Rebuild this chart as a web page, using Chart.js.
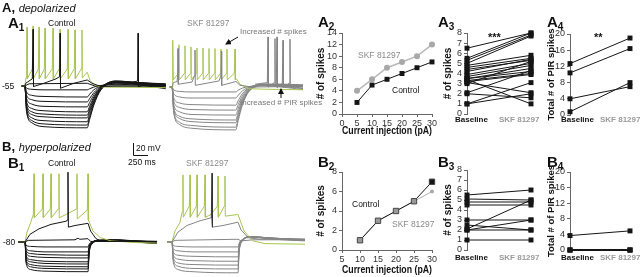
<!DOCTYPE html>
<html>
<head>
<meta charset="utf-8">
<script src="https://cdn.jsdelivr.net/npm/chart.js@4.4.1/dist/chart.umd.min.js"></script>
<style>
body { margin: 0; background: #fff; }
#container { position: relative; width: 640px; height: 277px; overflow: hidden; font-family: "Liberation Sans", Arial, sans-serif; color: #111; }
#container canvas { position: absolute; }
.t { position: absolute; white-space: nowrap; line-height: 1; z-index: 3; }
.panel { font-size: 15px; font-weight: bold; }
.panel sub { font-size: 10px; vertical-align: -3px; }
.sec { font-size: 13px; font-weight: bold; }
.sec i { font-size: 11px; font-weight: normal; }
.small { font-size: 8.5px; }
.note { font-size: 8px; color: #777; }
.grey { color: #8a8a8a; }
.cat { font-size: 8px; font-weight: bold; }
.stars { font-size: 11px; font-weight: bold; }
svg { position: absolute; left: 0; top: 0; z-index: 2; }
</style>
</head>
<body>
<div id="container">
	<div class="t sec" style="left:2px;top:1px">A, <i>depolarized</i></div>
	<div class="t panel" style="left:8px;top:15px">A<sub>1</sub></div>
	<div class="t small" style="left:48px;top:19px">Control</div>
	<div class="t small grey" style="left:187px;top:19px">SKF 81297</div>
	<div class="t small" style="left:2px;top:82px">-55</div>
	<div class="t note" style="left:240px;top:28px">Increased # spikes</div>
	<div class="t note" style="left:240px;top:99px">Increased # PIR spikes</div>
	<div class="t panel" style="left:318px;top:14px">A<sub>2</sub></div>
	<div class="t panel" style="left:438px;top:14px">A<sub>3</sub></div>
	<div class="t panel" style="left:547px;top:14px">A<sub>4</sub></div>
	<div class="t small grey" style="left:358px;top:51px">SKF 81297</div>
	<div class="t small" style="left:392px;top:86px">Control</div>
	<div class="t stars" style="left:488px;top:32px">***</div>
	<div class="t stars" style="left:594px;top:32px">**</div>

	<div class="t sec" style="left:2px;top:140px">B, <i>hyperpolarized</i></div>
	<div class="t panel" style="left:8px;top:155px">B<sub>1</sub></div>
	<div class="t small" style="left:48px;top:159px">Control</div>
	<div class="t small grey" style="left:186px;top:159px">SKF 81297</div>
	<div class="t small" style="left:3px;top:238px">-80</div>
	<div class="t small" style="left:136px;top:144px">20 mV</div>
	<div class="t small" style="left:128px;top:158px">250 ms</div>
	<div class="t panel" style="left:318px;top:154px">B<sub>2</sub></div>
	<div class="t panel" style="left:438px;top:154px">B<sub>3</sub></div>
	<div class="t panel" style="left:547px;top:154px">B<sub>4</sub></div>
	<div class="t small" style="left:352px;top:200px">Control</div>
	<div class="t small grey" style="left:392px;top:220px">SKF 81297</div>

	<svg width="640" height="277">
		<defs>
			<marker id="ah" markerWidth="6" markerHeight="6" refX="5" refY="3" orient="auto" markerUnits="userSpaceOnUse">
				<path d="M0,0 L6,3 L0,6 z" fill="#111" />
			</marker>
		</defs>
		<line x1="238" y1="37" x2="226" y2="44" stroke="#111" stroke-width="1" marker-end="url(#ah)" />
		<line x1="281" y1="98" x2="281" y2="89" stroke="#111" stroke-width="1" marker-end="url(#ah)" />
		<polyline points="133.5,143 133.5,155.5 148,155.5" fill="none" stroke="#111" stroke-width="1" />
	</svg>
</div>

<script>
// ---- summary data ----
const groups = ["Baseline", "SKF 81297"];

const a2Current = [5, 10, 15, 20, 25, 30];
const a2Skf = [4, 6, 8, 9, 10, 12];
const a2Control = [2, 5, 6, 7, 8, 9];

const a3Baseline = [6.5, 5.5, 5.3, 5.0, 4.8, 4.6, 4.4, 4.2, 3.9, 3.7, 3.5, 3.5, 3.3, 3.2, 3.0, 3.1, 2.1, 2.0, 1.0, 1.0, 3.4];
const a3Skf = [8.0, 8.0, 7.8, 7.7, 5.8, 5.5, 5.3, 5.4, 5.0, 4.8, 4.5, 4.2, 4.0, 3.9, 5.2, 2.1, 4.3, 1.6, 3.1, 2.0, 1.0];

const a4Baseline = [12.7, 10.4, 4.0, 0.8];
const a4Skf = [19.0, 16.4, 7.0, 8.0];

const b2Current = [10, 15, 20, 25, 30];
const b2Control = [1, 3, 4, 5, 7];
const b2Skf = [1, 3, 4, 5, 6];

const b3Baseline = [5.5, 5.1, 4.8, 4.5, 3.0, 2.5, 2.1, 2.0, 2.0, 1.0];
const b3Skf = [6.0, 5.0, 4.8, 4.5, 3.0, 2.0, 5.0, 3.0, 2.0, 1.0];

const b4Baseline = [3.7, 0, 0, 0];
const b4Skf = [4.9, 0, 0, 0];

// ---- voltage traces (time in ms, membrane potential in mV) ----
// A1 control: hyperpolarizing steps sampled on a common time grid
const a1cTime = [30, 80, 110, 200, 400, 1120, 1160, 1230, 1350, 1600, 2000, 2430];
const a1cSteps = [
	[-55, -55, -59, -61, -62, -62, -60, -57, -54, -52, -53, -54],
	[-55, -55, -66, -72, -74, -75, -70, -62, -55, -50, -51, -53],
	[-55, -55, -72, -80, -83, -84, -78, -67, -56, -49, -50, -52],
	[-55, -55, -78, -88, -92, -93, -85, -71, -57, -48, -49, -51],
	[-55, -55, -84, -96, -100, -102, -92, -75, -58, -47, -49, -52],
	[-55, -55, -88, -102, -106, -108, -97, -78, -58, -46, -49, -53],
	[-55, -55, -92, -107, -111, -113, -101, -81, -59, -46, -50, -55],
	[-55, -55, -96, -113, -118, -120, -107, -84, -60, -47, -51, -57],
	[-55, -55, -100, -118, -124, -126, -112, -87, -61, -48, -52, -58],
	[-55, -55, -103, -122, -129, -131, -116, -90, -62, -49, -53, -60],
];
const a1cGreen = [[30, -55], [80, -55], [100, -40], [112, -25], [117, 52], [122, -42], [205, -24], [217, 54], [222, -42], [305, -24], [317, 52], [322, -42], [405, -24], [417, 50], [422, -42], [538, -24], [550, 50], [555, -42], [655, -24], [667, 48], [672, -42], [788, -24], [800, 48], [805, -42], [905, -24], [917, 47], [922, -42], [1021, -24], [1033, 47], [1038, -40], [1120, -30], [1170, -45], [1250, -54], [1400, -57], [2430, -58]];
const a1cBlack = [[30, -55], [80, -55], [95, -50], [205, -42], [217, 48], [225, -56], [400, -50], [600, -42], [660, -38], [667, 41], [675, -59], [900, -50], [1120, -44], [1200, -50], [1350, -56], [1600, -55], [2430, -55]];
const a1cFlat = [[30, -55], [80, -55], [150, -51], [1120, -50], [1250, -55], [2430, -55]];
const a1cPir = [[1800, -50], [1960, -46], [1967, 41], [1975, -56], [2100, -52], [2430, -54]];

// A1 SKF 81297
const a1sTime = [30, 67, 95, 190, 400, 1130, 1170, 1240, 1360, 1600, 1900, 2250];
const a1sSteps = [
	[-55, -55, -60, -63, -64, -64, -61, -57, -54, -52, -52, -53],
	[-55, -55, -67, -73, -75, -75, -70, -62, -55, -51, -51, -52],
	[-55, -55, -75, -84, -87, -88, -80, -67, -56, -50, -50, -51],
	[-55, -55, -81, -92, -96, -97, -87, -71, -57, -50, -50, -52],
	[-55, -55, -87, -100, -105, -106, -94, -75, -58, -50, -51, -53],
	[-55, -55, -92, -108, -113, -115, -101, -79, -59, -50, -52, -55],
	[-55, -55, -95, -112, -118, -120, -106, -82, -60, -51, -53, -57],
	[-55, -55, -99, -119, -125, -128, -112, -85, -61, -52, -54, -58],
	[-55, -55, -102, -123, -130, -133, -116, -88, -62, -53, -55, -60],
];
const a1sGreen = [[30, -55], [67, -55], [75, -35], [83, 30], [88, -42], [175, -30], [183, 22], [188, -42], [275, -30], [283, 20], [288, -42], [375, -30], [383, 18], [388, -42], [475, -30], [483, 16], [488, -42], [575, -30], [583, 16], [588, -42], [675, -30], [683, 15], [688, -42], [775, -30], [783, 15], [788, -42], [875, -30], [883, 14], [888, -42], [975, -30], [983, 14], [988, -42], [1105, -30], [1117, 14], [1122, -42], [1140, -40], [1200, -50], [1350, -58], [1600, -59], [2250, -60]];
const a1sGrey = [[30, -55], [67, -55], [90, -47], [150, -45], [160, -35], [167, 15], [172, -50], [400, -46], [440, -35], [450, 12], [455, -52], [850, -44], [880, -35], [890, 10], [895, -52], [1133, -45], [1200, -52], [1400, -55], [2250, -54]];
const a1sPir = [[1450, -50], [1655, -47], [1667, 36], [1672, -55], [1770, -47], [1783, 33], [1788, -55], [1805, -48], [1817, 36], [1822, -56], [1905, -48], [1917, 30], [1922, -56], [2020, -48], [2033, 32], [2038, -56], [2150, -52], [2250, -53]];

// B1 control
const b1cTime = [50, 167, 185, 260, 500, 1217, 1235, 1280, 1400, 1700, 2000, 2367];
const b1cSteps = [
	[-80, -80, -86, -88, -89, -89, -84, -80, -78, -78, -79, -79],
	[-80, -80, -92, -96, -98, -98, -88, -81, -78, -77, -78, -79],
	[-80, -80, -96, -101, -103, -104, -90, -81, -77, -77, -78, -80],
	[-80, -80, -100, -106, -108, -109, -92, -82, -77, -77, -78, -80],
	[-80, -80, -105, -112, -115, -116, -94, -82, -77, -76, -78, -81],
	[-80, -80, -108, -116, -119, -120, -96, -83, -77, -76, -79, -81],
	[-80, -80, -112, -121, -124, -125, -98, -83, -77, -77, -79, -82],
	[-80, -80, -115, -125, -128, -129, -100, -84, -78, -77, -80, -82],
	[-80, -80, -119, -130, -133, -134, -102, -84, -78, -77, -80, -83],
];
const b1cGreen = [[50, -80], [167, -80], [200, -62], [260, -45], [305, -30], [317, 44], [322, -36], [455, -20], [467, 44], [472, -36], [588, -20], [600, 44], [605, -36], [721, -20], [733, 44], [738, -36], [850, -30], [1021, -20], [1033, 44], [1038, -38], [1205, -22], [1217, 44], [1222, -40], [1300, -60], [1420, -72], [1600, -78], [2000, -81], [2367, -82]];
const b1cBlack = [[50, -80], [167, -80], [250, -66], [400, -56], [600, -48], [860, -42], [870, -40], [883, 47], [890, -53], [1000, -50], [1217, -46], [1260, -60], [1350, -74], [1450, -79], [1700, -79], [2367, -79]];
const b1cFlat = [[50, -80], [167, -80], [220, -77], [1000, -76], [1050, -73], [1080, -75], [1217, -74], [1260, -79], [1400, -79], [2367, -79]];

// B1 SKF 81297
const b1sTime = [67, 150, 170, 250, 500, 1250, 1270, 1330, 1450, 1700, 2000, 2367];
const b1sSteps = [
	[-80, -80, -86, -88, -89, -89, -82, -75, -72, -73, -74, -75],
	[-80, -80, -92, -96, -98, -98, -85, -75, -71, -72, -74, -75],
	[-80, -80, -98, -104, -106, -107, -88, -76, -70, -72, -74, -76],
	[-80, -80, -103, -111, -114, -115, -90, -76, -70, -72, -74, -76],
	[-80, -80, -108, -118, -121, -122, -93, -77, -70, -72, -75, -77],
	[-80, -80, -112, -124, -128, -129, -95, -77, -70, -73, -75, -77],
	[-80, -80, -116, -130, -134, -136, -97, -78, -70, -73, -76, -78],
];
const b1sGreen = [[67, -80], [150, -80], [200, -60], [280, -45], [320, -25], [333, 42], [338, -35], [438, -15], [450, 42], [455, -35], [555, -15], [567, 42], [572, -35], [688, -15], [700, 42], [705, -35], [800, -30], [905, -15], [917, 40], [922, -35], [1021, -15], [1033, 40], [1038, -33], [1250, -30], [1350, -60], [1500, -78], [1700, -83], [2367, -84]];
const b1sGrey = [[67, -80], [150, -80], [250, -62], [400, -50], [600, -42], [800, -36], [810, -35], [824, -53], [1000, -50], [1250, -44], [1300, -58], [1420, -72], [1600, -75], [2367, -75]];
const b1sSpike = [[805, -36], [817, 45], [824, -53]];
const b1sFlat = [[67, -80], [150, -80], [200, -77], [1250, -75], [1300, -78], [1500, -76], [2367, -76]];

// ---- drawing ----
const PX_PER_MS = 0.06;
const PX_PER_MV = 0.55;
const GREEN = "#a9c552";
const BLACK = "#151515";
const GREY = "#858585";
const FONT = "'Liberation Sans', Arial, sans-serif";

function makeCanvas(box) {
	const canvas = document.createElement("canvas");
	canvas.width = box.width;
	canvas.height = box.height;
	canvas.style.left = box.left + "px";
	canvas.style.top = box.top + "px";
	canvas.style.width = box.width + "px";
	canvas.style.height = box.height + "px";
	document.getElementById("container").appendChild(canvas);
	return canvas;
}

function pairs(list) {
	return list.map(([x, y]) => ({ x, y }));
}

function spikeLine(list, color) {
	return { data: pairs(list), borderColor: color, showLine: true, pointRadius: 0, borderWidth: 1, tension: 0 };
}

function stepLines(time, steps, color) {
	return steps.map((vals) => ({
		data: vals.map((v, i) => ({ x: time[i], y: v })),
		borderColor: color,
		showLine: true,
		pointRadius: 0,
		borderWidth: 1,
		cubicInterpolationMode: "monotone",
	}));
}

function traceChart(box, datasets) {
	const canvas = makeCanvas(box);
	new Chart(canvas.getContext("2d"), {
		type: "scatter",
		data: { datasets },
		options: {
			responsive: false,
			animation: false,
			devicePixelRatio: 1,
			layout: { padding: 0 },
			plugins: { legend: { display: false }, tooltip: { enabled: false } },
			scales: {
				x: { type: "linear", display: false, min: 0, max: box.width / PX_PER_MS },
				y: {
					type: "linear",
					display: false,
					min: box.vBase - (box.top + box.height - box.base) / PX_PER_MV,
					max: box.vBase + (box.base - box.top) / PX_PER_MV,
				},
			},
		},
	});
}

traceChart({ left: 20, top: 20, width: 150, height: 115, base: 86, vBase: -55 }, [
	spikeLine(a1cBlack, BLACK),
	spikeLine(a1cPir, BLACK),
	spikeLine(a1cGreen, GREEN),
	spikeLine(a1cFlat, BLACK),
	...stepLines(a1cTime, a1cSteps, BLACK),
]);
traceChart({ left: 168, top: 20, width: 142, height: 115, base: 87, vBase: -55 }, [
	spikeLine(a1sPir, GREY),
	spikeLine(a1sGrey, GREY),
	spikeLine(a1sGreen, GREEN),
	...stepLines(a1sTime, a1sSteps, GREY),
]);
traceChart({ left: 15, top: 160, width: 150, height: 117, base: 242, vBase: -80 }, [
	spikeLine(b1cBlack, BLACK),
	spikeLine(b1cGreen, GREEN),
	spikeLine(b1cFlat, BLACK),
	...stepLines(b1cTime, b1cSteps, BLACK),
]);
traceChart({ left: 163, top: 160, width: 147, height: 117, base: 242, vBase: -80 }, [
	spikeLine(b1sSpike, "#333"),
	spikeLine(b1sGrey, GREY),
	spikeLine(b1sGreen, GREEN),
	spikeLine(b1sFlat, GREY),
	...stepLines(b1sTime, b1sSteps, GREY),
]);

// summary plots: box = canvas, area = wanted chart area (page coordinates)
function yAxis(min, max, step, title, width, titleSize) {
	return {
		min,
		max,
		border: { display: true, color: "#666" },
		grid: { drawOnChartArea: false, drawTicks: true, tickLength: 3, color: "#666" },
		ticks: { stepSize: step, color: "#333", font: { size: 9, family: FONT }, padding: 2, autoSkip: false },
		title: { display: true, text: title, color: "#111", font: { size: titleSize || 10, weight: "bold", family: FONT }, padding: 0 },
		afterFit: (scale) => {
			scale.width = width;
		},
	};
}

function summaryChart(box, area, datasets, yCfg, xCfg) {
	const canvas = makeCanvas(box);
	const yWidth = area.left - box.left;
	const xHeight = box.top + box.height - area.bottom;
	let x;
	if (xCfg) {
		x = {
			type: "linear",
			min: xCfg.min,
			max: xCfg.max,
			border: { display: true, color: "#666" },
			grid: { drawOnChartArea: false, drawTicks: true, tickLength: 3, color: "#666" },
			ticks: { stepSize: 5, color: "#333", font: { size: 9, family: FONT }, padding: 1, maxRotation: 0 },
			title: { display: true, text: "Current injection (pA)", color: "#111", font: { size: 10.5, weight: "bold", family: FONT }, padding: 0 },
			afterFit: (scale) => {
				scale.height = xHeight;
			},
		};
	} else {
		x = { type: "linear", display: false, min: 0, max: 1 };
	}
	new Chart(canvas.getContext("2d"), {
		type: "scatter",
		data: { datasets },
		options: {
			responsive: false,
			animation: false,
			devicePixelRatio: 1,
			layout: {
				padding: {
					left: 0,
					top: area.top - box.top,
					right: box.left + box.width - area.right,
					bottom: xCfg ? 0 : xHeight,
				},
			},
			plugins: { legend: { display: false }, tooltip: { enabled: false } },
			scales: { x, y: yAxis(yCfg.min, yCfg.max, yCfg.step, yCfg.title, yWidth, yCfg.titleSize) },
		},
	});
}

function curve(xs, ys, color, style, radius, fill, width, edge) {
	return {
		data: xs.map((x, i) => ({ x, y: ys[i] })),
		showLine: true,
		borderColor: color,
		borderWidth: width || 1,
		pointStyle: style,
		pointRadius: radius,
		pointBackgroundColor: fill,
		pointBorderColor: edge || fill,
		pointBorderWidth: edge ? 1 : 0,
		clip: false,
	};
}

function pairLines(before, after, width) {
	return before.map((b, i) => ({
		data: [{ x: 0, y: b }, { x: 1, y: after[i] }],
		showLine: true,
		borderColor: BLACK,
		borderWidth: width ? width[i] : 1,
		pointStyle: "rect",
		pointRadius: 3.5,
		pointBackgroundColor: BLACK,
		pointBorderWidth: 0,
		clip: false,
	}));
}

summaryChart(
	{ left: 315, top: 24, width: 127, height: 113 },
	{ left: 342, top: 33, right: 432, bottom: 114 },
	[
		curve(a2Current, a2Control, BLACK, "rect", 3.5, BLACK),
		curve(a2Current, a2Skf, "#b8b8b8", "circle", 3, "#a8a8a8", 1.5),
	],
	{ min: 0, max: 14, step: 2, title: "# of spikes" },
	{ min: 0, max: 30 }
);
summaryChart(
	{ left: 442, top: 24, width: 100, height: 100 },
	{ left: 467, top: 33, right: 531, bottom: 114 },
	pairLines(a3Baseline, a3Skf),
	{ min: 0, max: 8, step: 1, title: "# of spikes" }
);
summaryChart(
	{ left: 546, top: 14, width: 94, height: 116 },
	{ left: 570, top: 34, right: 630, bottom: 115 },
	pairLines(a4Baseline, a4Skf),
	{ min: 0, max: 20, step: 4, title: "Total # of PIR spikes", titleSize: 9.5 }
);
summaryChart(
	{ left: 315, top: 163, width: 127, height: 113 },
	{ left: 342, top: 172, right: 432, bottom: 250 },
	[
		curve(b2Current, b2Control, BLACK, "rect", 3.8, ["#9a9a9a", "#9a9a9a", "#9a9a9a", "#9a9a9a", BLACK], 1, "#444"),
		curve(b2Current, b2Skf, "#b0b0b0", "circle", 2, "#a8a8a8"),
	],
	{ min: 0, max: 8, step: 2, title: "# of spikes" },
	{ min: 5, max: 30 }
);
summaryChart(
	{ left: 442, top: 161, width: 100, height: 100 },
	{ left: 467, top: 170, right: 531, bottom: 250 },
	pairLines(b3Baseline, b3Skf),
	{ min: 0, max: 8, step: 1, title: "# of spikes" }
);
summaryChart(
	{ left: 546, top: 152, width: 94, height: 116 },
	{ left: 570, top: 172, right: 630, bottom: 250 },
	pairLines(b4Baseline, b4Skf, [1, 2, 2, 2]),
	{ min: 0, max: 20, step: 4, title: "Total # of PIR spikes", titleSize: 9.5 }
);

// category labels under the paired plots
const catPlaces = [
	{ top: 116, xs: [455, 499] },
	{ top: 116, xs: [561, 600] },
	{ top: 254, xs: [455, 499] },
	{ top: 254, xs: [561, 600] },
];
const container = document.getElementById("container");
catPlaces.forEach((place) => {
	groups.forEach((name, i) => {
		const el = document.createElement("div");
		el.className = "t cat";
		el.textContent = name;
		el.style.left = place.xs[i] + "px";
		el.style.top = place.top + "px";
		el.style.color = i === 0 ? "#111" : "#9a9a9a";
		container.appendChild(el);
	});
});
</script>
</body>
</html>
